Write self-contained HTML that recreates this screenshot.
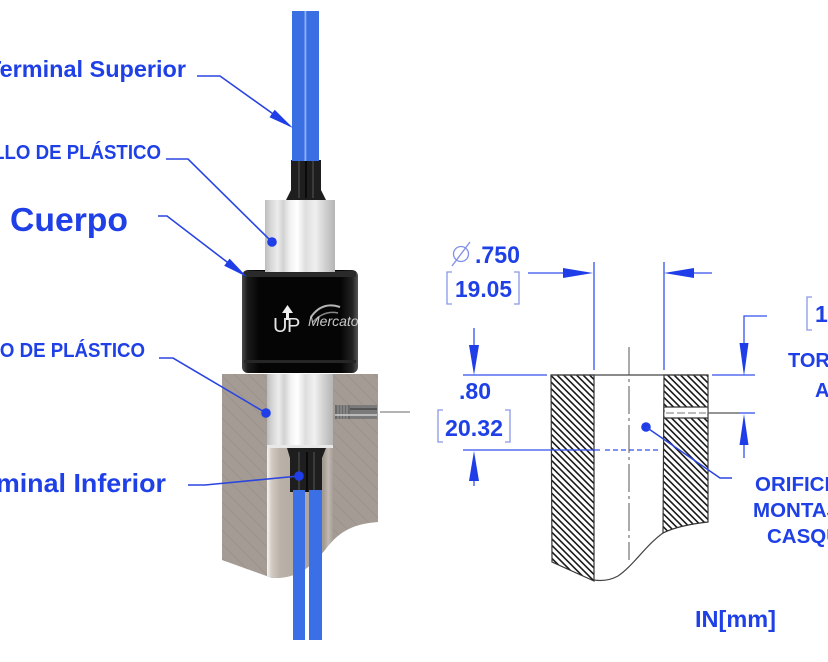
<!DOCTYPE html>
<html>
<head>
<meta charset="utf-8">
<style>
html,body{margin:0;padding:0;background:#fff;}
svg{display:block;}
text{font-family:"Liberation Sans",Arial,sans-serif;}
</style>
</head>
<body>
<svg width="828" height="662" viewBox="0 0 828 662" xmlns="http://www.w3.org/2000/svg">
<defs>
  <linearGradient id="silver" x1="0" x2="1" y1="0" y2="0">
    <stop offset="0" stop-color="#bdbdbd"/>
    <stop offset="0.08" stop-color="#d6d6d6"/>
    <stop offset="0.18" stop-color="#ececec"/>
    <stop offset="0.26" stop-color="#d2d2d2"/>
    <stop offset="0.36" stop-color="#f2f2f2"/>
    <stop offset="0.46" stop-color="#ffffff"/>
    <stop offset="0.58" stop-color="#dedede"/>
    <stop offset="0.72" stop-color="#f0f0f0"/>
    <stop offset="0.86" stop-color="#d0d0d0"/>
    <stop offset="1" stop-color="#b5b5b5"/>
  </linearGradient>
  <linearGradient id="blk" x1="0" x2="1" y1="0" y2="0">
    <stop offset="0" stop-color="#4a4a4a"/>
    <stop offset="0.05" stop-color="#1a1a1a"/>
    <stop offset="0.15" stop-color="#050505"/>
    <stop offset="0.85" stop-color="#050505"/>
    <stop offset="0.95" stop-color="#222"/>
    <stop offset="1" stop-color="#555"/>
  </linearGradient>
  <linearGradient id="bore" x1="0" x2="1" y1="0" y2="0">
    <stop offset="0" stop-color="#f6f4f2"/>
    <stop offset="0.07" stop-color="#d2cac2"/>
    <stop offset="0.2" stop-color="#bab1a8"/>
    <stop offset="0.6" stop-color="#b0a79e"/>
    <stop offset="0.86" stop-color="#a39a92"/>
    <stop offset="0.93" stop-color="#c2bab2"/>
    <stop offset="1" stop-color="#a69e96"/>
  </linearGradient>
  <pattern id="hatch" width="6.5" height="6.5" patternUnits="userSpaceOnUse">
    <path d="M0,0 L6.5,6.5 M-1,5.5 L1,7.5 M5.5,-1 L7.5,1" stroke="#1a1a1a" stroke-width="1.6"/>
  </pattern>
  <pattern id="ghatch" width="14" height="14" patternUnits="userSpaceOnUse">
    <path d="M0,0 L14,14 M-1,13 L1,15 M13,-1 L15,1" stroke="#968e86" stroke-width="1"/>
  </pattern>
  <clipPath id="blockclip">
    <path d="M222,374 H378 V522 C352,524 340,532 328,546 C314,564 300,579 272,578 L222,560 Z"/>
  </clipPath>
  <clipPath id="bodyclip">
    <rect x="242" y="270" width="116" height="103" rx="6"/>
  </clipPath>
</defs>

<!-- ============ PHOTO SIDE ============ -->
<path d="M222,374 H378 V522 C352,524 340,532 328,546 C314,564 300,579 272,578 L222,560 Z" fill="#a49c94"/>
<path d="M222,374 H378 V522 C352,524 340,532 328,546 C314,564 300,579 272,578 L222,560 Z" fill="url(#ghatch)" opacity="0.6"/>
<g clip-path="url(#blockclip)">
  <rect x="267" y="440" width="66" height="150" fill="url(#bore)"/>
</g>
<rect x="267" y="374" width="66" height="74" fill="url(#silver)"/>
<rect x="267" y="445" width="66" height="3" fill="#e8e8e8"/>
<path d="M287,448 L326,448 L322,458 L322,492 L290,492 L290,458 Z" fill="#1e1e1e"/>
<line x1="299" y1="452" x2="299" y2="492" stroke="#3a3a3a" stroke-width="2"/>
<line x1="307" y1="452" x2="307" y2="492" stroke="#0a0a0a" stroke-width="2"/>
<line x1="314" y1="452" x2="314" y2="492" stroke="#3a3a3a" stroke-width="2"/>
<rect x="293" y="490" width="12" height="150" fill="#3b6fe6"/>
<rect x="309" y="490" width="13" height="150" fill="#3b6fe6"/>
<rect x="335" y="405" width="15" height="14" fill="#6a6a6a"/>
<line x1="338" y1="405" x2="338" y2="419" stroke="#9a9a9a" stroke-width="1"/>
<line x1="341" y1="405" x2="341" y2="419" stroke="#9a9a9a" stroke-width="1"/>
<line x1="344" y1="405" x2="344" y2="419" stroke="#9a9a9a" stroke-width="1"/>
<line x1="347" y1="405" x2="347" y2="419" stroke="#9a9a9a" stroke-width="1"/>
<rect x="350" y="405" width="27" height="14" fill="#7a7a7a"/>
<line x1="350" y1="409" x2="377" y2="409" stroke="#555" stroke-width="2"/>
<line x1="335" y1="415" x2="377" y2="415" stroke="#cfcfcf" stroke-width="1.5"/>
<line x1="380" y1="412" x2="410" y2="412" stroke="#9a9a9a" stroke-width="1.5"/>

<rect x="242" y="270" width="116" height="103" rx="6" fill="url(#blk)"/>
<rect x="244" y="271" width="112" height="6" fill="#2a2a2a" clip-path="url(#bodyclip)"/>
<rect x="244" y="360" width="112" height="3" fill="#262626"/>
<g clip-path="url(#bodyclip)">
  <text x="273" y="332" font-size="20" fill="#e6e6e6">U</text>
  <text x="287" y="332" font-size="20" fill="#e6e6e6">P</text>
  <polygon points="282,313 287.5,305 293,313" fill="#f0f0f0"/>
  <rect x="286" y="312" width="3" height="8" fill="#f0f0f0"/>
  <path d="M311,317 Q322,301 340,307" stroke="#b5b5b5" stroke-width="2" fill="none"/>
  <path d="M313,322 Q324,310 338,313" stroke="#888" stroke-width="1.5" fill="none"/>
  <text x="308" y="326" font-size="14" fill="#c8c8c8" font-style="italic">Mercato</text>
</g>

<rect x="265" y="200" width="70" height="72" fill="url(#silver)"/>
<path d="M291,160 L321,160 L321,190 L326,200 L286,200 L291,190 Z" fill="#1e1e1e"/>
<line x1="299" y1="160" x2="299" y2="198" stroke="#3a3a3a" stroke-width="2"/>
<line x1="306" y1="160" x2="306" y2="198" stroke="#0a0a0a" stroke-width="2"/>
<line x1="313" y1="160" x2="313" y2="198" stroke="#3a3a3a" stroke-width="2"/>
<rect x="292" y="11" width="13" height="150" fill="#3a6ee3"/>
<rect x="306" y="11" width="13" height="150" fill="#3a6ee3"/>
<rect x="304.5" y="11" width="1.8" height="150" fill="#8fb0f2"/>

<!-- ============ LEFT LABELS & LEADERS ============ -->
<g fill="#1e40e6" font-weight="bold">
  <text x="-13" y="77" font-size="23" textLength="199" lengthAdjust="spacingAndGlyphs">Terminal Superior</text>
  <text x="-39" y="159" font-size="20" textLength="200" lengthAdjust="spacingAndGlyphs">ANILLO DE PLÁSTICO</text>
  <text x="10" y="231" font-size="33" textLength="118" lengthAdjust="spacingAndGlyphs">Cuerpo</text>
  <text x="-55" y="357" font-size="20" textLength="200" lengthAdjust="spacingAndGlyphs">ANILLO DE PLÁSTICO</text>
  <text x="-44" y="492" font-size="26" textLength="210" lengthAdjust="spacingAndGlyphs">Terminal Inferior</text>
</g>
<g stroke="#2b45e0" stroke-width="1.6" fill="none">
  <polyline points="197,76 220,76 290,126"/>
  <polyline points="166,159 188,159 272,242"/>
  <polyline points="158,216 167,216 244,275"/>
  <polyline points="159,358 173,358 266,413"/>
  <polyline points="188,485 205,485 299,476"/>
</g>
<g fill="#1f3ee8">
  <polygon points="293,128 269.5,117.3 274.7,109.8"/>
  <polygon points="247,277 224.2,265.7 229.6,258.6"/>
  <circle cx="272" cy="242" r="4.8"/>
  <circle cx="266" cy="413" r="4.8"/>
  <circle cx="299" cy="476" r="4.8"/>
</g>

<!-- ============ TECHNICAL DRAWING ============ -->
<path d="M551,375 L594,375 L594,581 L552,562 Z" fill="url(#hatch)" stroke="#333" stroke-width="1.2"/>
<path d="M664,375 L708,375 L708,522 C690,524 673,528 663,533 Z" fill="url(#hatch)" stroke="#333" stroke-width="1.2"/>
<rect x="664.6" y="407" width="42.8" height="11" fill="#fff"/>
<line x1="664" y1="407" x2="708" y2="407" stroke="#333" stroke-width="1.2"/>
<line x1="664" y1="418" x2="708" y2="418" stroke="#333" stroke-width="1.2"/>
<line x1="666" y1="413" x2="706" y2="413" stroke="#777" stroke-width="1" stroke-dasharray="8,3"/>
<line x1="708" y1="413" x2="740" y2="413" stroke="#555" stroke-width="1.2"/>
<line x1="551" y1="375" x2="708" y2="375" stroke="#444" stroke-width="1.2"/>
<path d="M663,533 C646,545 633,566 618,576 C609,581 601,581 594,580" stroke="#444" stroke-width="1.2" fill="none"/>
<line x1="629" y1="347" x2="629" y2="560" stroke="#555" stroke-width="1" stroke-dasharray="28,4,3,4"/>

<g stroke="#3352ee" stroke-width="1.3" fill="none">
  <line x1="594" y1="262" x2="594" y2="370"/>
  <line x1="664" y1="262" x2="664" y2="370"/>
  <line x1="528" y1="273" x2="570" y2="273"/>
  <line x1="690" y1="273" x2="712" y2="273"/>
  <line x1="463" y1="375" x2="547" y2="375"/>
  <line x1="474" y1="328" x2="474" y2="350"/>
  <line x1="463" y1="450" x2="600" y2="450"/>
  <line x1="605" y1="450" x2="658" y2="450" stroke-dasharray="5,3"/>
  <line x1="474" y1="470" x2="474" y2="486"/>
  <polyline points="767,316 744,316 744,350"/>
  <line x1="712" y1="375" x2="755" y2="375"/>
  <line x1="740" y1="413" x2="755" y2="413"/>
  <line x1="744" y1="440" x2="744" y2="458"/>
</g>
<g fill="#1f3ee8">
  <polygon points="593,273 563,268 563,278"/>
  <polygon points="664,273 694,268 694,278"/>
  <polygon points="474,375 469,345 479,345"/>
  <polygon points="474,451 469,481 479,481"/>
  <polygon points="744,376 739.5,343 748.5,343"/>
  <polygon points="744,414 739.5,445 748.5,445"/>
  <circle cx="646" cy="427" r="4.8"/>
</g>
<polyline points="646,427 720,478 732,478" stroke="#2b45e0" stroke-width="1.5" fill="none"/>

<circle cx="461" cy="254" r="7.5" stroke="#7f8fe8" stroke-width="1.3" fill="none"/>
<line x1="452" y1="266" x2="470" y2="242" stroke="#7f8fe8" stroke-width="1.3"/>
<g stroke="#8a98e8" stroke-width="1.3" fill="none">
  <polyline points="452,272 447,272 447,304 452,304"/>
  <polyline points="514,272 519,272 519,304 514,304"/>
  <polyline points="443,410 438,410 438,442 443,442"/>
  <polyline points="505,410 510,410 510,442 505,442"/>
  <polyline points="812,297 807,297 807,330 812,330"/>
</g>

<g fill="#1e40e6" font-weight="bold">
  <text x="475" y="263" font-size="24" textLength="45" lengthAdjust="spacingAndGlyphs">.750</text>
  <text x="455" y="297" font-size="23" textLength="57" lengthAdjust="spacingAndGlyphs">19.05</text>
  <text x="459" y="399" font-size="23" textLength="32" lengthAdjust="spacingAndGlyphs">.80</text>
  <text x="445" y="436" font-size="23" textLength="58" lengthAdjust="spacingAndGlyphs">20.32</text>
  <text x="815" y="322" font-size="23">10</text>
  <text x="788" y="367" font-size="20">TORNILLO</text>
  <text x="815" y="397" font-size="20">AJUSTE</text>
  <text x="755" y="491" font-size="20.5">ORIFICIO DE</text>
  <text x="753" y="517" font-size="20.5">MONTAJE DEL</text>
  <text x="767" y="543" font-size="20.5">CASQUILLO</text>
  <text x="695" y="627" font-size="23" textLength="81" lengthAdjust="spacingAndGlyphs">IN[mm]</text>
</g>
</svg>
</body>
</html>
